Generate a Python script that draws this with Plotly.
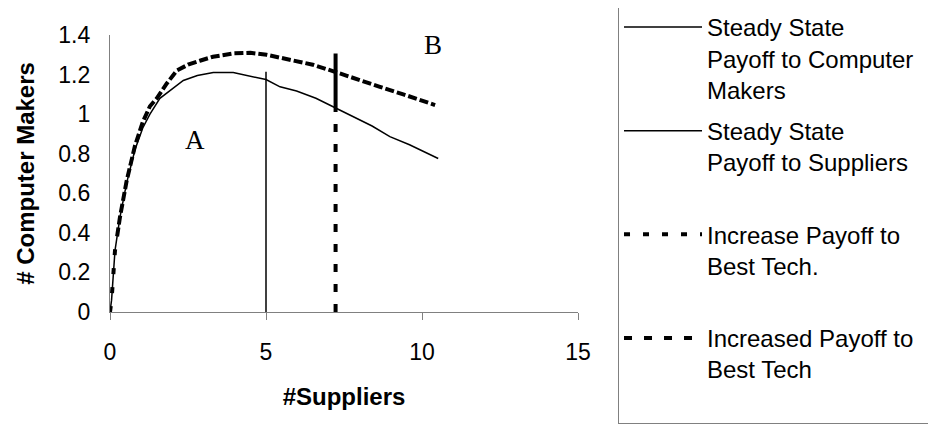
import plotly.graph_objects as go

# ---- data ----
curve_x = [0, 0.05, 0.16, 0.32, 0.53, 0.8, 1.05, 1.28, 1.6, 1.92, 2.35, 2.8, 3.31, 3.95,
           4.5, 5.0, 5.45, 5.98, 6.6, 7.16, 7.8, 8.4, 8.97, 9.6, 10.52]
computer_makers_y = [0, 0.06, 0.31, 0.48, 0.65, 0.82, 0.93, 1.0, 1.08, 1.12, 1.17, 1.195, 1.21, 1.21,
                     1.19, 1.175, 1.138, 1.117, 1.08, 1.037, 0.99, 0.94, 0.886, 0.845, 0.776]

dashed_x = [0, 0.05, 0.16, 0.32, 0.53, 0.8, 1.05, 1.28, 1.5, 1.82, 2.14, 2.5, 2.88, 3.3, 3.95,
            4.5, 5.02, 5.45, 5.88, 6.5, 7.21, 7.9, 8.65, 9.4, 10.36, 10.42]
increase_payoff_y = [0, 0.06, 0.31, 0.48, 0.66, 0.84, 0.96, 1.04, 1.08, 1.155, 1.22, 1.25, 1.27, 1.29, 1.307,
                     1.31, 1.30, 1.285, 1.273, 1.25, 1.214, 1.18, 1.138, 1.1, 1.051, 1.046]

suppliers_x = [5, 5]
suppliers_y = [0, 1.214]

increased_x = [7.23, 7.23]
increased_y = [0, 1.307]

x_ticks = [0, 5, 10, 15]
legend_names = [
    "Steady State<br>Payoff to Computer&nbsp;&nbsp;&nbsp;<br>Makers",
    "Steady State<br>Payoff to Suppliers<br> ",
    "Increase Payoff to<br>Best Tech.<br> ",
    "Increased Payoff to<br>Best Tech<br> ",
]
label_text = ["A", "B"]
label_x = [2.72, 10.36]
label_y = [0.87, 1.35]

# ---- styles ----
vert_dash = ",".join(["8px,12px"] * 10) + ",80px,20px"
curve_dash = ",".join(["6px,13px"] * 4) + "," + ",".join(["9px,3px"] * 70)

fig = go.Figure()
fig.add_trace(go.Scatter(x=curve_x, y=computer_makers_y, mode="lines", name=legend_names[0],
                         legendgroup="g1", line=dict(color="black", width=1.5)))
fig.add_trace(go.Scatter(x=suppliers_x, y=suppliers_y, mode="lines", name=legend_names[1],
                         legendgroup="g2", line=dict(color="black", width=1.5)))
fig.add_trace(go.Scatter(x=dashed_x, y=increase_payoff_y, mode="lines", name=legend_names[2],
                         legendgroup="g3", line=dict(color="black", width=4, dash=curve_dash)))
fig.add_trace(go.Scatter(x=increased_x, y=increased_y, mode="lines", name=legend_names[3],
                         legendgroup="g4", line=dict(color="black", width=4, dash=vert_dash)))

for t, xx, yy in zip(label_text, label_x, label_y):
    fig.add_annotation(x=xx, y=yy, text=t, showarrow=False,
                       font=dict(family="Liberation Serif, Times New Roman, serif", size=27, color="black"))

fig.update_layout(
    width=936, height=430,
    margin=dict(l=102, r=366, t=27, b=126, autoexpand=False),
    plot_bgcolor="white", paper_bgcolor="white",
    font=dict(family="Liberation Sans, Arial, sans-serif", size=23, color="black"),
    showlegend=True,
    legend=dict(
        x=1.0855, y=1.112, xanchor="left", yanchor="top",
        bordercolor="#808080", borderwidth=1, bgcolor="white",
        font=dict(size=24, color="black"),
        itemwidth=78, valign="top", tracegroupgap=7,
        traceorder="grouped", maxheight=1.0,
    ),
)

fig.update_xaxes(
    range=[0, 15], tickvals=x_ticks, showgrid=False, zeroline=False,
    showline=True, linecolor="#808080", linewidth=1.2,
    ticks="outside", ticklen=7, tickcolor="#808080", tickwidth=1.2,
    ticklabelstandoff=12,
    title=dict(text="<b>#Suppliers</b>", font=dict(size=24), standoff=24),
)
fig.update_yaxes(
    range=[0, 1.4], dtick=0.2, showgrid=False, zeroline=False,
    showline=True, linecolor="#808080", linewidth=1.2,
    ticks="", ticklabelstandoff=14,
    title=dict(text="<b># Computer Makers</b>", font=dict(size=24), standoff=16),
)

fig.write_html("out.html")
